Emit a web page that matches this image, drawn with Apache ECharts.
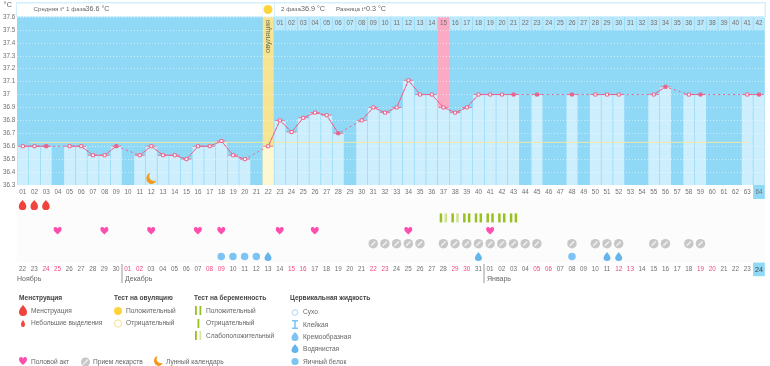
<!DOCTYPE html>
<html><head><meta charset="utf-8">
<style>html,body{margin:0;padding:0;background:#fff}#c{width:770px;height:366px}</style>
<script src="https://cdn.jsdelivr.net/npm/echarts@6/dist/echarts.min.js"></script></head>
<body><div id="c"></div><script>
const temperatures=[36.6,36.6,36.6,null,36.6,36.6,36.53,36.53,36.6,null,36.53,36.6,36.53,36.53,36.5,36.6,36.6,36.64,36.53,36.5,null,36.6,36.8,36.71,36.82,36.86,36.84,36.7,null,36.8,36.9,36.86,36.9,37.11,37,37,36.9,36.86,36.9,37,37,37,37,null,37,null,null,37,null,37,37,37,null,null,37,37.06,null,37,37,null,null,null,37,37];
const filledDays=[3,9,28,43,45,48,56,59,64];
const dates=['22','23','24','25','26','27','28','29','30','01','02','03','04','05','06','07','08','09','10','11','12','13','14','15','16','17','18','19','20','21','22','23','24','25','26','27','28','29','30','31','01','02','03','04','05','06','07','08','09','10','11','12','13','14','15','16','17','18','19','20','21','22','23','24'];
const weekendDays=[3,4,10,11,17,18,24,25,31,32,38,39,45,46,52,53,59,60];
const menstruationDays=[1,2,3];
const positiveTestDays=[39,40,41,42,43];
const weakTestDays=[37,38];
const intercourseDays=[4,8,12,16,18,23,26,34,41];
const medicationDays=[31,32,33,34,35,37,38,39,40,41,42,43,44,45,48,50,51,52,55,56,58,59];
const eggWhiteDays=[18,19,20,21,48];
const wateryDays=[22,40,51,52];
const moonDays=[12];
const ovulationDay=22, peakDay=37, phase2Start=23, currentDay=64;
const coverline=36.63;
const yTicks=[36.3,36.4,36.5,36.6,36.7,36.8,36.9,37,37.1,37.2,37.3,37.4,37.5,37.6];
const months=['Ноябрь','Декабрь','Январь'];
const days=temperatures.map((_,i)=>String(i+1).padStart(2,'0'));
const rows=['fluid','pill','heart','test','mens'];

const P={
 drop:'M12 0C12 0 3 11 3 16a9 8 0 0 0 18 0C21 11 12 0 12 0z',
 fat:'M12 1C9 5 4 9 4 15a8 8 0 0 0 16 0C20 9 15 5 12 1z',
 heart:'M12 22C5 16 0 12 0 7A6 6 0 0 1 12 4 6 6 0 0 1 24 7C24 12 19 16 12 22z',
 moon:'M10 1C5 8 8 17 20 17 23 17 24 16 24 16 21 21 16 24 11 23 3 21 -1 14 2 7 4 3 7 1 10 1z',
 hour:'M2 0H10V2H7V10H10V12H2V10H5V2H2z'
};
const pts=(arr,row)=>arr.map(d=>[d-1,row]);
const sc=(data,symbol,size,color,extra)=>Object.assign({type:'scatter',xAxisIndex:1,yAxisIndex:1,data,symbol,symbolSize:size,itemStyle:{color,opacity:1},silent:true,z:4},extra||{});
const font='"Liberation Sans",Arial,sans-serif', grey='#707070', tickSize=6.3;

const pink='#e9648c';
const barData=temperatures.map((v,i)=>v==null?null:{value:v,itemStyle:{color:i+1===ovulationDay?'#fdf8d2':'#cdeefd'}});
const hl=temperatures.map((_,i)=>i+1===ovulationDay?{value:37.6,itemStyle:{color:'#f6e492'}}
 :i+1===peakDay?{value:37.6,itemStyle:{color:'#fbaac4'}}:null);

const T=(x,y,text,o)=>({type:'text',x,y,silent:true,z:50,style:Object.assign({text,fontFamily:font,fontSize:6.6,fill:'#666',verticalAlign:'middle'},o||{})});
const R=(x,y,w,h,fill,z)=>({type:'rect',silent:true,z:z||40,shape:{x,y,width:w,height:h},style:{fill}});
const C=(x,y,r,fill,stroke)=>({type:'circle',silent:true,z:50,shape:{cx:x,cy:y,r},style:{fill:fill,stroke:stroke||null,lineWidth:1}});
const B={fontWeight:'bold',fill:'#444',fontSize:6.6};
const graphics=[
 T(3.5,5,'°C',{fontSize:7.5}),
 R(16,2,750,15,'#d4f0fc',30),R(17,3.5,245,12.5,'#fff'),R(275,3.5,489.5,12.5,'#fff'),R(262.5,3.5,11.5,13,'#fff'),
 C(268,9.5,4.5,'#fdd33e'),
 T(33.5,9.5,'Средняя t° 1 фаза',{fontSize:6.2}),T(85.5,9.5,'36.6 °C',{fontSize:7.2}),
 T(281,9.5,'2 фаза',{fontSize:6.2}),T(301,9.5,'36.9 °C',{fontSize:7.2}),T(336,9.5,'Разница t°',{fontSize:6.2}),T(366,9.5,'0.3 °C',{fontSize:7.2}),
 T(17,279,months[0],{fontSize:7}),T(125,279,months[1],{fontSize:7}),T(487,279,months[2],{fontSize:7}),
 R(121.5,264,1,19,'#999'),R(483.5,264,1,19,'#999'),
 T(19,298.5,'Менструация',B),T(31,311,'Менструация'),T(31,323.5,'Небольшие выделения'),
 T(114,298.5,'Тест на овуляцию',B),C(118,311,4,'#fdd33e'),T(126,311,'Положительный'),C(118,323.5,3.6,'#fff','#f3e187'),T(126,323.5,'Отрицательный'),
 T(194,298.5,'Тест на беременность',B),
 R(195,306,1.8,9,'#97c11f',50),R(199.5,306,1.8,9,'#97c11f',50),T(206,311,'Положительный'),
 R(197.5,319,1.8,9,'#97c11f',50),T(206,323.5,'Отрицательный'),
 R(195,331,1.8,9,'#97c11f',50),R(199.5,331,1.8,9,'#d8e69c',50),T(206,336,'Слабоположительный'),
 T(290,298.5,'Цервикальная жидкость',B),
 C(295,312.5,2.8,'#fff','#a9d8f5'),T(303,312,'Сухо'),
 T(303,325,'Клейкая'),T(303,337.5,'Кремообразная'),T(303,349.5,'Водянистая'),
 C(295,361.5,3.6,'#7cc4f3'),T(303,362,'Яичный белок'),
 T(31,362,'Половой акт'),
 C(85.5,362,4.5,'#c7c7c7'),{type:'line',silent:true,z:51,shape:{x1:83,y1:364.5,x2:88,y2:359.5},style:{stroke:'#eee',lineWidth:1.6}},T(93,362,'Прием лекарств'),
 T(166,362,'Лунный календарь')
];
const legendGlyphs=[
 [P.fat,19,305,8,11,'#f0433c'],[P.fat,21,320,4,7,'#f0433c'],
 [P.hour,292,320,6,9,'#7cc4f3'],[P.fat,291.5,332,7,9,'#7cc4f3'],[P.drop,291.5,344,7,9,'#64b5ea'],
 [P.heart,19,357,8,8,'#ff4fae'],[P.moon,154,356,9,10,'#f39a1e']
];

const chart=echarts.init(document.getElementById('c'),null,{renderer:'canvas'});
chart.setOption({
 animation:false,backgroundColor:'#fff',
 grid:[
  {left:16.7,right:5.2,top:17,height:168,show:true,backgroundColor:'#8fd8f6',borderWidth:0},
  {left:16.7,right:5.2,top:198.6,height:64.4,show:true,backgroundColor:'#fcfcfc',borderWidth:0}
 ],
 xAxis:[
  {type:'category',gridIndex:0,z:8,data:days,boundaryGap:true,axisLine:{show:false},axisTick:{show:false},splitLine:{show:false},
   axisLabel:{interval:0,margin:4.5,fontSize:tickSize,fontFamily:font,color:grey,hideOverlap:false}},
  {type:'category',gridIndex:1,z:8,data:days,boundaryGap:true,axisLine:{show:false},axisTick:{show:false},splitLine:{show:false},
   axisLabel:{interval:0,margin:3.5,fontSize:tickSize,fontFamily:font,hideOverlap:false,
    color:(v)=>weekendDays.includes(+v)?'#f0487f':grey,
    formatter:v=>+v===currentDay?'{h|'+dates[currentDay-1]+'}':dates[+v-1],rich:{h:{fontSize:7.2,color:'#444'}}}}
 ],
 yAxis:[
  {type:'value',gridIndex:0,min:36.3,max:37.6,interval:0.1,z:3,axisLine:{show:false},axisTick:{show:false},
   splitLine:{show:true,lineStyle:{color:'rgba(255,255,255,.55)',type:[1,2],width:1}},
   axisLabel:{align:'left',margin:14,fontSize:tickSize,fontFamily:font,color:grey,customValues:yTicks,formatter:v=>String(+(+v).toFixed(1))}},
  {type:'category',gridIndex:1,data:rows,show:false}
 ],
 graphic:graphics,
 series:[
  {type:'bar',name:'highlight',data:hl,barWidth:11,barGap:'-100%',silent:true,z:1},
  {type:'bar',name:'bars',data:barData,barWidth:11,barGap:'-100%',silent:true,z:2},
  {type:'custom',silent:true,z:4,data:days.map((d,i)=>[i,37.6]),
   renderItem(p,api){
    const i=api.value(0);
    const c=api.coord([i,37.6]),w=api.size([1,0])[0],h=13;
    if(i+1===ovulationDay) return {type:'text',x:c[0],y:c[1]+3,rotation:Math.PI/2,style:{text:'овуляция',fontSize:7.6,fontFamily:font,fill:'#6a6a4a',align:'right',verticalAlign:'middle'}};
    if(i+1<phase2Start) return null;
    const label=String(i+2-phase2Start).padStart(2,'0');
    const ch=[];
    if(i+1!==peakDay) ch.push({type:'rect',shape:{x:c[0]-w/2+.35,y:c[1],width:w-.7,height:h},style:{fill:'#bce8fb'}});
    ch.push({type:'text',x:c[0],y:c[1]+6.5,style:{text:label,fontSize:tickSize,fontFamily:font,fill:grey,align:'center',verticalAlign:'middle'}});
    return {type:'group',children:ch};
   }},
  {type:'custom',silent:true,z:4,data:[[currentDay-1,36.3]],renderItem(p,api){
    const c=api.coord([api.value(0),36.3]),w=api.size([1,0])[0];
    return {type:'group',children:[
     {type:'rect',shape:{x:c[0]-w/2,y:c[1],width:w,height:14},style:{fill:'#8fd8f6'}},
     {type:'rect',shape:{x:c[0]-w/2,y:c[1]+77.6,width:w,height:13.6},style:{fill:'#8fd8f6'}}
    ]};
  }},
  {type:'custom',silent:true,z:4,data:[[0]],renderItem(p,api){
    const a=api.coord([1,coverline]),b=api.coord([62,coverline]),w=api.size([1,0])[0];
    return {type:'line',shape:{x1:a[0]-w/2,y1:a[1],x2:b[0],y2:b[1]},style:{stroke:'#f3eaa0',lineWidth:1}};
  }},
  {type:'custom',coordinateSystem:'none',silent:true,z:50,data:legendGlyphs.map((g,i)=>[i]),renderItem(p,api){
    const g=legendGlyphs[api.value(0)];
    return {type:'path',shape:{pathData:g[0],x:g[1],y:g[2],width:g[3],height:g[4],layout:'cover'},style:{fill:g[5]}};
  }},
  {type:'line',name:'gaps',data:temperatures,connectNulls:true,symbol:'none',silent:true,z:5,lineStyle:{color:pink,width:1,type:[2,3]}},
  {type:'line',name:'temp',data:temperatures,connectNulls:false,symbol:'none',silent:true,z:6,lineStyle:{color:pink,width:.9}},
  {type:'scatter',data:temperatures.map((v,i)=>[i,v]).filter(d=>d[1]!=null),symbol:'rect',symbolSize:[10,1],silent:true,z:6,itemStyle:{color:pink,opacity:.8}},
  {type:'scatter',data:temperatures.map((v,i)=>({value:[i,v],itemStyle:{color:filledDays.includes(i+1)?pink:'#fff',borderColor:pink,borderWidth:1,opacity:1}})).filter(d=>d.value[1]!=null),symbol:'rect',symbolSize:3,silent:true,z:7},
  {type:'scatter',data:moonDays.map(d=>[d-1,36.35]),symbol:'path://'+P.moon,symbolSize:[10,11],silent:true,z:7,itemStyle:{color:'#f39a1e',opacity:1}},
  sc(pts(menstruationDays,'mens'),'path://'+P.fat,[7.5,10],'#f0433c'),
  sc(pts(positiveTestDays.concat(weakTestDays),'test'),'rect',[2.5,9],'#97c11f',{symbolOffset:[-2.4,0]}),
  sc(pts(positiveTestDays,'test'),'rect',[2.5,9],'#97c11f',{symbolOffset:[2.4,0]}),
  sc(pts(weakTestDays,'test'),'rect',[2.5,9],'#cfe28e',{symbolOffset:[2.4,0]}),
  sc(pts(intercourseDays,'heart'),'path://'+P.heart,[8,7.5],'#ff4fae'),
  sc(pts(medicationDays,'pill'),'circle',9.5,'#c7c7c7'),
  sc(pts(medicationDays,'pill'),'rect',[6,1.6],'#f0f0f0',{symbolRotate:45,z:5}),
  sc(pts(eggWhiteDays,'fluid'),'circle',7.5,'#7cc4f3'),
  sc(pts(wateryDays,'fluid'),'path://'+P.drop,[7,9],'#64b5ea')
 ]
});
</script></body></html>
